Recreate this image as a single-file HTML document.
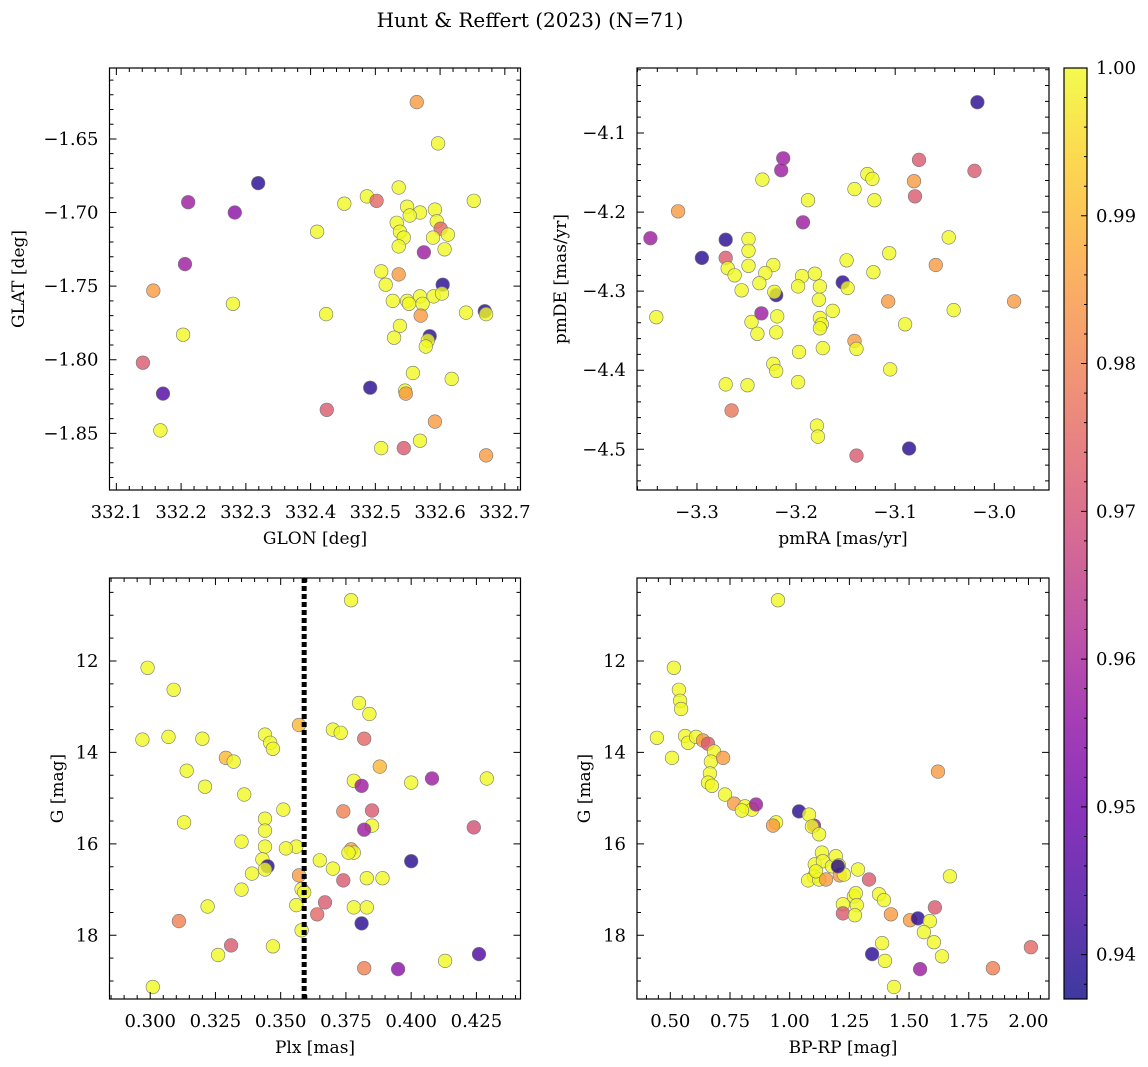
<!DOCTYPE html>
<html><head><meta charset="utf-8">
<style>
body{margin:0;background:#fff;}
svg{display:block;font-family:"DejaVu Serif","Liberation Serif",serif;}
</style></head>
<body>
<svg id="fig" width="1148" height="1067" viewBox="0 0 1148 1067" xmlns="http://www.w3.org/2000/svg">
<defs>
<linearGradient id="plasma" x1="0" y1="1" x2="0" y2="0">
<stop offset="0" stop-color="#0d0887"/><stop offset="0.1" stop-color="#41049d"/><stop offset="0.2" stop-color="#6a00a8"/><stop offset="0.3" stop-color="#8f0da4"/><stop offset="0.4" stop-color="#b12a90"/><stop offset="0.5" stop-color="#cc4778"/><stop offset="0.6" stop-color="#e16462"/><stop offset="0.7" stop-color="#f2844b"/><stop offset="0.8" stop-color="#fca636"/><stop offset="0.9" stop-color="#fcce25"/><stop offset="1" stop-color="#f0f921"/>
</linearGradient>
</defs>
<text x="530" y="27" text-anchor="middle" font-size="20">Hunt &amp; Reffert (2023) (N=71)</text>
</svg>
<script>
// ---- Panel 1: GLON vs GLAT
const p1Glon=[332.564,332.597,332.319,332.211,332.283,332.487,332.502,332.452,332.536,332.549,332.569,332.592,332.595,332.601,332.612,332.553,332.533,332.538,332.544,332.536,332.589,332.607,332.575,332.410,332.206,332.509,332.536,332.516,332.604,332.590,332.569,332.527,332.549,332.552,332.573,332.570,332.603,332.640,332.669,332.671,332.157,332.280,332.424,332.538,332.584,332.581,332.578,332.529,332.203,332.141,332.618,332.558,332.546,332.547,332.492,332.172,332.425,332.168,332.592,332.569,332.509,332.544,332.671,332.652];
const p1Glat=[-1.625,-1.653,-1.680,-1.693,-1.700,-1.689,-1.692,-1.694,-1.683,-1.696,-1.700,-1.698,-1.706,-1.711,-1.715,-1.702,-1.707,-1.713,-1.717,-1.723,-1.717,-1.725,-1.727,-1.713,-1.735,-1.740,-1.742,-1.749,-1.749,-1.757,-1.757,-1.760,-1.760,-1.762,-1.762,-1.770,-1.755,-1.768,-1.767,-1.769,-1.753,-1.762,-1.769,-1.777,-1.784,-1.787,-1.791,-1.785,-1.783,-1.802,-1.813,-1.809,-1.821,-1.823,-1.819,-1.823,-1.834,-1.848,-1.842,-1.855,-1.860,-1.860,-1.865,-1.692];
const p1Prob=[.985,1,.94,.958,.955,1,.975,1,1,1,1,1,1,.975,1,1,1,1,1,1,1,1,.958,1,.958,1,.985,1,.94,1,1,1,1,1,1,.985,1,1,.94,1,.985,1,1,1,.94,1,1,1,1,.972,1,1,1,.985,.94,.945,.972,1,.985,1,1,.972,.985,1];
// ---- Panel 2: pmRA vs pmDE
const p2Pmra=[-3.017,-3.076,-3.020,-3.081,-3.080,-3.213,-3.215,-3.234,-3.128,-3.141,-3.123,-3.121,-3.188,-3.193,-3.347,-3.271,-3.248,-3.248,-3.319,-3.295,-3.271,-3.269,-3.248,-3.223,-3.262,-3.194,-3.181,-3.149,-3.122,-3.106,-3.059,-3.046,-3.231,-3.237,-3.220,-3.222,-3.198,-3.176,-3.153,-3.148,-3.255,-3.341,-3.107,-2.980,-3.041,-3.177,-3.163,-3.219,-3.176,-3.174,-3.245,-3.235,-3.090,-3.220,-3.176,-3.239,-3.141,-3.139,-3.173,-3.197,-3.223,-3.220,-3.198,-3.249,-3.271,-3.105,-3.265,-3.179,-3.178,-3.139,-3.086];
const p2Pmde=[-4.061,-4.134,-4.148,-4.161,-4.180,-4.132,-4.147,-4.159,-4.152,-4.171,-4.158,-4.185,-4.185,-4.213,-4.233,-4.235,-4.234,-4.249,-4.199,-4.258,-4.258,-4.271,-4.268,-4.267,-4.280,-4.281,-4.278,-4.261,-4.276,-4.252,-4.267,-4.232,-4.277,-4.290,-4.305,-4.301,-4.294,-4.294,-4.289,-4.296,-4.299,-4.333,-4.313,-4.313,-4.324,-4.311,-4.325,-4.332,-4.334,-4.342,-4.339,-4.328,-4.342,-4.352,-4.347,-4.354,-4.363,-4.373,-4.372,-4.377,-4.392,-4.401,-4.415,-4.419,-4.418,-4.399,-4.451,-4.470,-4.484,-4.508,-4.499];
const p2Prob=[.94,.972,.972,.985,.972,.958,.958,1,1,1,1,1,1,.958,.958,.94,1,1,.985,.94,.972,1,1,1,1,1,1,1,1,1,.985,1,1,1,.94,1,1,1,.94,1,1,1,.985,.985,1,1,1,1,1,1,1,.958,1,1,1,1,.985,1,1,1,1,1,1,1,1,1,.978,1,1,.972,.94];
// ---- Panel 3: Plx vs G
const p3Plx=[0.377,0.299,0.309,0.307,0.297,0.320,0.314,0.321,0.329,0.332,0.336,0.344,0.346,0.347,0.357,0.370,0.373,0.380,0.384,0.388,0.382,0.378,0.381,0.408,0.429,0.400,0.385,0.424,0.344,0.351,0.344,0.385,0.382,0.313,0.335,0.344,0.356,0.377,0.378,0.376,0.352,0.343,0.345,0.344,0.339,0.365,0.370,0.374,0.383,0.389,0.357,0.358,0.359,0.367,0.356,0.378,0.383,0.364,0.322,0.335,0.311,0.331,0.326,0.347,0.358,0.381,0.382,0.395,0.413,0.426,0.301,0.400,0.374];
const p3G=[10.67,12.15,12.63,13.66,13.72,13.70,14.40,14.75,14.12,14.20,14.92,13.61,13.79,13.92,13.40,13.50,13.57,12.92,13.16,14.31,13.70,14.62,14.73,14.57,14.57,14.66,15.27,15.64,15.45,15.25,15.71,15.60,15.69,15.53,15.95,16.06,16.06,16.12,16.19,16.19,16.10,16.34,16.49,16.56,16.65,16.36,16.54,16.80,16.75,16.75,16.69,16.99,17.06,17.28,17.34,17.39,17.39,17.54,17.37,17.00,17.69,18.22,18.43,18.24,17.89,17.74,18.72,18.74,18.56,18.41,19.13,16.38,15.29];
const p3Prob=[1,1,1,1,1,1,1,1,.99,1,1,1,1,1,.99,1,1,1,1,.99,.975,1,.958,.958,1,1,.972,.97,1,1,1,1,.958,1,1,1,1,.985,1,1,1,1,.94,1,1,1,1,.972,1,1,.985,1,1,.972,1,1,1,.975,1,1,.98,.972,1,1,1,.94,.98,.955,1,.945,1,.94,.98];
// ---- Panel 4: BP-RP vs G
const p4Bprp=[0.951,0.515,0.536,0.541,0.545,0.444,0.562,0.574,0.608,0.637,0.658,0.683,0.507,0.670,0.721,0.666,0.658,0.674,0.729,0.767,0.813,0.842,0.859,0.800,0.943,0.930,1.039,1.102,1.081,1.093,1.123,1.135,1.105,1.102,1.077,1.123,1.139,1.177,1.193,1.206,1.210,1.110,1.152,1.227,1.202,1.286,1.332,1.223,1.269,1.223,1.277,1.281,1.374,1.395,1.273,1.424,1.504,1.537,1.587,1.608,1.562,1.604,1.387,1.399,1.345,1.546,1.437,1.638,1.851,2.010,1.621,1.671];
const p4G=[10.67,12.15,12.63,12.87,13.05,13.68,13.64,13.79,13.66,13.74,13.81,13.98,14.12,14.20,14.12,14.46,14.66,14.73,14.92,15.12,15.18,15.25,15.14,15.27,15.53,15.60,15.29,15.60,15.36,15.62,15.79,16.19,16.45,16.71,16.80,16.78,16.38,16.49,16.27,16.47,16.69,16.60,16.78,16.67,16.49,16.56,16.78,17.32,17.15,17.52,17.08,17.34,17.10,17.23,17.56,17.54,17.67,17.63,17.69,17.39,17.93,18.15,18.17,18.56,18.41,18.74,19.13,18.46,18.72,18.26,14.42,16.71];
const p4Prob=[1,1,1,1,1,1,1,1,1,.985,.972,1,1,1,.985,1,1,1,1,.985,1,1,.958,1,1,.985,.94,.958,1,1,1,1,1,1,1,1,1,1,1,1,.985,1,.985,1,.94,1,.972,1,1,.972,1,1,1,1,1,.985,.985,.94,1,.972,1,1,1,1,.94,.958,1,1,.98,.975,.985,1];
// ---- Tick labels
const p1XTicks=[332.1,332.2,332.3,332.4,332.5,332.6,332.7];
const p1YTicks=[-1.65,-1.70,-1.75,-1.80,-1.85];
const p2XTicks=[-3.3,-3.2,-3.1,-3.0];
const p2YTicks=[-4.1,-4.2,-4.3,-4.4,-4.5];
const p3XTicks=[0.300,0.325,0.350,0.375,0.400,0.425];
const gTicks=[12,14,16,18];
const p4XTicks=[0.50,0.75,1.00,1.25,1.50,1.75,2.00];
const cbTicks=[0.94,0.95,0.96,0.97,0.98,0.99,1.00];
const plxLine=[0.359];

const NS="http://www.w3.org/2000/svg";
const svg=document.getElementById('fig');
function mk(tag,attrs,parent){const e=document.createElementNS(NS,tag);for(const k in attrs)e.setAttribute(k,attrs[k]);(parent||svg).appendChild(e);return e;}
const PL=[[13,8,135],[65,4,157],[106,0,168],[143,13,164],[177,42,144],[204,71,120],[225,100,98],[242,132,75],[252,166,54],[252,206,37],[240,249,33]];
const CMIN=0.937,CMAX=1.0;
function cmap(v){let t=(v-CMIN)/(CMAX-CMIN);t=Math.max(0,Math.min(1,t))*10;const i=Math.min(9,Math.floor(t)),f=t-i;const a=PL[i],b=PL[i+1];return 'rgb('+[0,1,2].map(k=>Math.round(a[k]+(b[k]-a[k])*f)).join(',')+')';}
function fmt(v,d){return (v<0?'\u2212':'')+Math.abs(v).toFixed(d);}

function panel(o){
  const g=mk('g',{});
  
  
  const sx=v=>o.x0+(v-o.dx[0])/(o.dx[1]-o.dx[0])*(o.x1-o.x0);
  const sy=v=>o.y0+(v-o.dy[0])/(o.dy[1]-o.dy[0])*(o.y1-o.y0);
  const pg=mk('g',{},g);
  
  
  for(let i=0;i<o.xs.length;i++){
    const c=mk('circle',{cx:sx(o.xs[i]).toFixed(1),cy:sy(o.ys[i]).toFixed(1),r:6.8,fill:cmap(o.cs[i]),'fill-opacity':0.8,stroke:'#777','stroke-width':0.6},pg);
    
    
  }
  if(o.vline){
    const l=mk('line',{x1:sx(o.vline[0]),x2:sx(o.vline[0]),y1:o.y0,y2:o.y1,stroke:'#000','stroke-width':5,'stroke-dasharray':'5,3'},g);
    
    
  }
  const fr=mk('rect',{x:o.x0,y:o.y0,width:o.x1-o.x0,height:o.y1-o.y0,fill:'none',stroke:'#000','stroke-width':1.2},g);
  
  
  let d='';
  const lo=Math.min(o.dx[0],o.dx[1]),hi=Math.max(o.dx[0],o.dx[1]);
  for(let k=Math.ceil(lo/o.xm-1e-6);k*o.xm<=hi+1e-9;k++){const v=k*o.xm,p=sx(v);const maj=Math.abs(v/o.xM-Math.round(v/o.xM))<1e-6;const L=maj?7:4;d+=`M${p} ${o.y1}v${-L}M${p} ${o.y0}v${L}`;}
  const ylo=Math.min(o.dy[0],o.dy[1]),yhi=Math.max(o.dy[0],o.dy[1]);
  for(let k=Math.ceil(ylo/o.ym-1e-6);k*o.ym<=yhi+1e-9;k++){const v=k*o.ym,p=sy(v);const maj=Math.abs(v/o.yM-Math.round(v/o.yM))<1e-6;const L=maj?7:4;d+=`M${o.x0} ${p}h${L}M${o.x1} ${p}h${-L}`;}
  const tk=mk('path',{d:d,stroke:'#000','stroke-width':1,fill:'none'},g);
  
  
  o.xt.forEach(v=>{const t=mk('text',{x:sx(v),y:o.y1+28,'text-anchor':'middle','font-size':18},g);t.textContent=fmt(v,o.xd);
    
    });
  o.yt.forEach(v=>{const t=mk('text',{x:o.x0-11,y:sy(v)+6,'text-anchor':'end','font-size':18},g);t.textContent=fmt(v,o.yd);
    
    });
  const xl=mk('text',{x:(o.x0+o.x1)/2,y:o.y1+54,'text-anchor':'middle','font-size':17},g);xl.textContent=o.xlab;
  
  
  const yx=o.ylx,yy=(o.y0+o.y1)/2;
  const yl=mk('text',{x:yx,y:yy,'text-anchor':'middle','font-size':17,transform:`rotate(-90 ${yx} ${yy})`},g);yl.textContent=o.ylab;
  
  
}
panel({name:'glon-glat-panel',x0:109.5,x1:520.5,y0:68,y1:490,dx:[332.0894,332.7242],dy:[-1.6018,-1.8885],xs:p1Glon,ys:p1Glat,cs:p1Prob,xM:0.1,xm:0.02,yM:0.05,ym:0.01,xt:p1XTicks,yt:p1YTicks,xd:1,yd:2,xlab:'GLON [deg]',ylab:'GLAT [deg]',ylx:24});
panel({name:'pm-panel',x0:637,x1:1049,y0:68,y1:490,dx:[-3.3605,-2.9448],dy:[-4.0178,-4.5515],xs:p2Pmra,ys:p2Pmde,cs:p2Prob,xM:0.1,xm:0.02,yM:0.1,ym:0.02,xt:p2XTicks,yt:p2YTicks,xd:1,yd:1,xlab:'pmRA [mas/yr]',ylab:'pmDE [mas/yr]',ylx:566});
panel({name:'plx-g-panel',x0:109.5,x1:520.5,y0:578,y1:999,dx:[0.2844,0.4419],dy:[10.185,19.393],xs:p3Plx,ys:p3G,cs:p3Prob,xM:0.025,xm:0.005,yM:2,ym:0.5,xt:p3XTicks,yt:gTicks,xd:3,yd:0,xlab:'Plx [mas]',ylab:'G [mag]',ylx:63,vline:plxLine});
panel({name:'cmd-panel',x0:637,x1:1049,y0:578,y1:999,dx:[0.3605,2.086],dy:[10.185,19.393],xs:p4Bprp,ys:p4G,cs:p4Prob,xM:0.25,xm:0.05,yM:2,ym:0.5,xt:p4XTicks,yt:gTicks,xd:2,yd:0,xlab:'BP-RP [mag]',ylab:'G [mag]',ylx:590});

const cb=mk('g',{});


const CX0=1064,CX1=1087,CY0=68,CY1=999;
mk('rect',{x:CX0,y:CY0,width:CX1-CX0,height:CY1-CY0,fill:'url(#plasma)','fill-opacity':0.8},cb);
mk('rect',{x:CX0,y:CY0,width:CX1-CX0,height:CY1-CY0,fill:'none',stroke:'#000','stroke-width':1.2},cb);
const cy=v=>CY1-(v-CMIN)/(CMAX-CMIN)*(CY1-CY0);
let cd='';
for(let k=Math.ceil(CMIN/0.002);k*0.002<=CMAX+1e-9;k++){const v=k*0.002;const maj=Math.abs(v*100-Math.round(v*100))<1e-6;cd+=`M${CX1} ${cy(v)}h${maj?-6:-3}`;}
mk('path',{d:cd,stroke:'#000','stroke-width':1},cb);
cbTicks.forEach(v=>{const t=mk('text',{x:CX1+9,y:cy(v)+6,'font-size':18},cb);t.textContent=v.toFixed(2);
  
  });
</script>
</body></html>
